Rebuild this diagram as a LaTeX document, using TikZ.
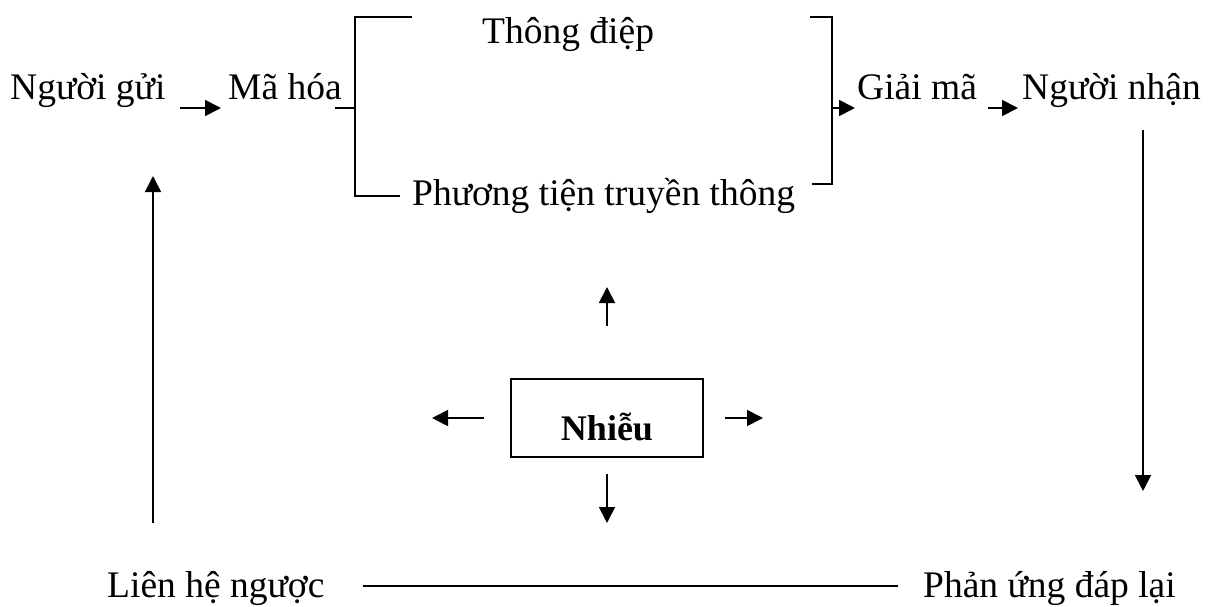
\documentclass[tikz,border=0pt]{standalone}
\usepackage{fontspec}
\setmainfont{Liberation Serif}
\usetikzlibrary{arrows.meta}
\begin{document}
\begin{tikzpicture}[x=1pt,y=-1pt,
  lbl/.style={inner sep=0pt,anchor=base west,font=\fontsize{37.5}{40}\selectfont},
  ln/.style={line width=1.8pt},
  arr/.style={line width=1.8pt,-{Triangle[width=16pt,length=16pt]}},
  noisebox/.style={draw,line width=1.6pt,inner sep=0pt,minimum width=192pt,minimum height=78pt,
    text height=44pt,text depth=0pt,font=\fontsize{36}{38}\selectfont\bfseries}]
\useasboundingbox (0,0) rectangle (1211,606);

% top row
\node[lbl] (sender) at (10,99) {Người gửi};
\node[lbl] (enc) at (228,99) {Mã hóa};
\node[lbl] (dec) at (857,99) {Giải mã};
\node[lbl] (receiver) at (1022,99) {Người nhận};
% channel
\node[lbl] (msg) at (482,43) {Thông điệp};
\node[lbl] (media) at (412,205) {Phương tiện truyền thông};
% feedback row
\node[lbl] (feedback) at (107,597) {Liên hệ ngược};
\node[lbl] (response) at (923,597) {Phản ứng đáp lại};
% noise
\node[noisebox] (noise) at (607,418) {Nhiễu};

% bracket points
\coordinate (lbT) at (412,17);  \coordinate (lbTc) at (355,17);
\coordinate (lbBc) at (355,196); \coordinate (lbB) at (400,196);
\coordinate (lbM) at (355,108);  \coordinate (encOut) at (335,108);
\coordinate (rbT) at (810,17);  \coordinate (rbTc) at (832,17);
\coordinate (rbBc) at (832,184); \coordinate (rbB) at (812,184);
\coordinate (rbM) at (832,108);  \coordinate (decIn) at (855,108);

% sender -> encoding, decoding -> receiver
\coordinate (sOut) at (180,108); \coordinate (eIn) at (221,108);
\coordinate (dOut) at (988,108); \coordinate (rIn) at (1018,108);
\draw[arr] (sOut) -- (eIn);
\draw[arr] (dOut) -- (rIn);

% channel brackets
\draw[ln] (encOut) -- (lbM);
\draw[ln] (lbT) -- (lbTc) -- (lbBc) -- (lbB);
\draw[ln] (rbT) -- (rbTc) -- (rbBc) -- (rbB);
\draw[arr] (rbM) -- (decIn);

% receiver -> response, feedback -> sender
\coordinate (rDown) at (1143,130); \coordinate (rDownEnd) at (1143,491);
\draw[arr] (rDown) -- (rDownEnd);
\coordinate (fUp) at (153,523); \coordinate (fUpEnd) at (153,176);
\draw[arr] (fUp) -- (fUpEnd);
\coordinate (bl) at (363,586); \coordinate (br) at (898,586);
\draw[ln] (bl) -- (br);

% noise arrows
\coordinate (nU1) at (607,326); \coordinate (nU2) at (607,287);
\coordinate (nD1) at (607,474); \coordinate (nD2) at (607,523);
\coordinate (nL1) at (484,418); \coordinate (nL2) at (432,418);
\coordinate (nR1) at (725,418); \coordinate (nR2) at (763,418);
\draw[arr] (nU1) -- (nU2);
\draw[arr] (nD1) -- (nD2);
\draw[arr] (nL1) -- (nL2);
\draw[arr] (nR1) -- (nR2);
\end{tikzpicture}
\end{document}
